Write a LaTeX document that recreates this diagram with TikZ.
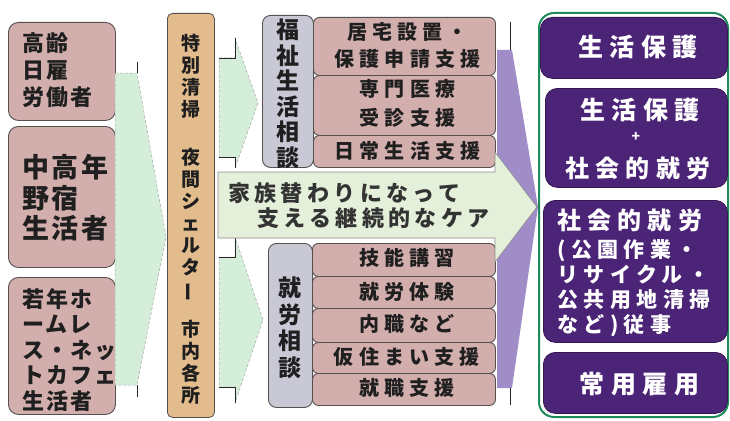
\documentclass[tikz,border=0pt]{standalone}
\usepackage{fontspec}
\newfontfamily\jp{Noto Sans CJK JP}
\newfontfamily\jpsp[LetterSpace=10]{Noto Sans CJK JP}
\newfontfamily\jpban[LetterSpace=20]{Noto Sans CJK JP}
\newfontfamily\jpwide[LetterSpace=26]{Noto Sans CJK JP}
\definecolor{pinkbox}{HTML}{D2AEAD}
\definecolor{tanbox}{HTML}{E3BC8E}
\definecolor{graybox}{HTML}{C9C9D6}
\definecolor{arrowgreen}{HTML}{D5EEDA}
\definecolor{bannergreen}{HTML}{E4F0DA}
\definecolor{lavender}{HTML}{A08DC8}
\definecolor{deeppurple}{HTML}{4B2377}
\definecolor{framegreen}{HTML}{1E8A5C}
\definecolor{edgegray}{HTML}{555050}
\begin{document}
\begin{tikzpicture}[x=1pt,y=-1pt,
  lbox/.style={draw=edgegray,fill=pinkbox,rounded corners=10pt,line width=0.9pt,inner sep=0pt,anchor=north west},
  rbox/.style={draw=edgegray,fill=pinkbox,rounded corners=6pt,line width=0.9pt,inner sep=0pt,anchor=north west},
  tanstyle/.style={draw=edgegray,fill=tanbox,rounded corners=5pt,line width=0.8pt,inner sep=0pt,anchor=north west},
  graystyle/.style={draw=edgegray,fill=graybox,rounded corners=8pt,line width=0.9pt,inner sep=0pt,anchor=north west},
  pbox/.style={draw=deeppurple!70!black,fill=deeppurple,rounded corners=12pt,line width=0.8pt,inner sep=0pt,anchor=north west},
  garrow/.style={fill=arrowgreen,draw=black!35,densely dashed,line width=0.5pt},
  tick/.style={draw=black!85,line width=0.9pt},
  txt/.style={inner sep=0pt,text=black!88},
  wtxt/.style={inner sep=0pt,text=white},
]
\useasboundingbox (0,0) rectangle (730,420);

% left boxes
\node[lbox,minimum width=107pt,minimum height=98pt] (b1) at (8,22) {};
\node[lbox,minimum width=107pt,minimum height=141pt] (b2) at (8,126) {};
\node[lbox,minimum width=107pt,minimum height=137pt] (b3) at (8,277) {};
\node[txt,anchor=west,align=left,font=\jpsp\bfseries\fontsize{22}{27}\selectfont] (t1) at ([xshift=14pt,yshift=1pt]b1.west) {高齢\\日雇\\労働者};
\node[txt,anchor=west,align=left,font=\jpsp\bfseries\fontsize{27}{30.5}\selectfont] (t2) at ([xshift=14pt,yshift=-1pt]b2.west) {中高年\\野宿\\生活者};
\node[txt,anchor=west,align=left,font=\jpsp\bfseries\fontsize{22}{25.5}\selectfont] (t3) at ([xshift=14pt,yshift=-4pt]b3.west) {若年ホ\\ームレ\\ス・ネッ\\トカフェ\\生活者};

% big green arrow
\path[garrow] (115,73) -- (137,73) -- (166,237) -- (137,385) -- (115,385) -- cycle;
\coordinate (g1a) at (137,62); \coordinate (g1b) at (137,73);
\coordinate (g1c) at (137,385); \coordinate (g1d) at (137,397);
\draw[tick] (g1a) -- (g1b);
\draw[tick] (g1c) -- (g1d);

% tan column
\node[tanstyle,minimum width=47pt,minimum height=404pt] (tan) at (167,13) {};
\node[txt,align=center,font=\jp\bfseries\fontsize{19}{22}\selectfont] (tantext) at (190.5,219)
 {特\\別\\清\\掃\\[26pt]夜\\間\\シ\\ェ\\ル\\タ\\\rotatebox[origin=c]{90}{ー}\\[18pt]市\\内\\各\\所};

% small green arrows
\path[garrow] (219,58) -- (235,58) -- (235,38) -- (258,103) -- (235,168) -- (235,157) -- (219,157) -- cycle;
\coordinate (s1a) at (235,38); \coordinate (s1b) at (235,58); \coordinate (s1c) at (219,58);
\coordinate (s1d) at (219,157); \coordinate (s1e) at (235,157); \coordinate (s1f) at (235,168);
\draw[tick] (s1a) -- (s1b) -- (s1c);
\draw[tick] (s1d) -- (s1e) -- (s1f);
\path[garrow] (219,257) -- (235,257) -- (235,237) -- (263,320) -- (235,403) -- (235,387) -- (219,387) -- cycle;
\coordinate (s2a) at (235,237); \coordinate (s2b) at (235,257); \coordinate (s2c) at (219,257);
\coordinate (s2d) at (219,387); \coordinate (s2e) at (235,387); \coordinate (s2f) at (235,403);
\draw[tick] (s2a) -- (s2b) -- (s2c);
\draw[tick] (s2d) -- (s2e) -- (s2f);

% purple arrow
\path[fill=lavender] (497,50) -- (512,50) -- (538,207) -- (512,388) -- (497,388) -- cycle;
\coordinate (p1a) at (510,22); \coordinate (p1b) at (510,50);
\coordinate (p1c) at (510,388); \coordinate (p1d) at (510,405);
\draw[tick] (p1a) -- (p1b);
\draw[tick] (p1c) -- (p1d);

% welfare group
\node[graystyle,minimum width=51pt,minimum height=152pt] (fg) at (262,15) {};
\node[txt,align=center,font=\jp\bfseries\fontsize{23}{25.5}\selectfont] (fgt) at (287.5,94) {福\\祉\\生\\活\\相\\談};
\node[rbox,minimum width=182pt,minimum height=58pt] (f1) at (313,17) {};
\node[rbox,minimum width=182pt,minimum height=60pt] (f2) at (313,75) {};
\node[rbox,minimum width=182pt,minimum height=32pt] (f3) at (313,135) {};
\node[txt,align=center,font=\jpwide\bfseries\fontsize{20}{27}\selectfont] (f1t) at ([xshift=3pt,yshift=1pt]f1.center) {居宅設置・\\保護申請支援};
\node[txt,align=center,font=\jpwide\bfseries\fontsize{20}{29}\selectfont] (f2t) at ([xshift=3pt,yshift=2pt]f2.center) {専門医療\\受診支援};
\node[txt,align=center,font=\jpwide\bfseries\fontsize{20}{24}\selectfont] (f3t) at ([xshift=3pt,yshift=1pt]f3.center) {日常生活支援};

% employment group
\node[graystyle,minimum width=44pt,minimum height=164pt] (eg) at (268,243) {};
\node[txt,align=center,font=\jp\bfseries\fontsize{23}{26.5}\selectfont] (egt) at (290,328) {就\\労\\相\\談};
\node[rbox,minimum width=183pt,minimum height=33pt] (e1) at (312,243) {};
\node[rbox,minimum width=183pt,minimum height=32pt] (e2) at (312,276) {};
\node[rbox,minimum width=183pt,minimum height=34pt] (e3) at (312,308) {};
\node[rbox,minimum width=183pt,minimum height=31pt] (e4) at (312,342) {};
\node[rbox,minimum width=183pt,minimum height=32pt] (e5) at (312,373) {};
\node[txt,font=\jpwide\bfseries\fontsize{20}{24}\selectfont] (e1t) at ([xshift=3pt,yshift=2pt]e1.center) {技能講習};
\node[txt,font=\jpwide\bfseries\fontsize{20}{24}\selectfont] (e2t) at ([xshift=3pt,yshift=1pt]e2.center) {就労体験};
\node[txt,font=\jpwide\bfseries\fontsize{20}{24}\selectfont] (e3t) at ([xshift=3pt,yshift=2pt]e3.center) {内職など};
\node[txt,font=\jpwide\bfseries\fontsize{20}{24}\selectfont] (e4t) at ([xshift=3pt,yshift=1pt]e4.center) {仮住まい支援};
\node[txt,font=\jpwide\bfseries\fontsize{20}{24}\selectfont] (e5t) at ([xshift=3pt,yshift=2pt]e5.center) {就職支援};

% banner arrow
\path[fill=bannergreen,draw=black!45,line width=0.6pt] (218,172) -- (495,172) -- (495,152) -- (537,207) -- (495,262) -- (495,238) -- (218,238) -- cycle;
\node[txt,anchor=west,align=left,font=\jpban\bfseries\fontsize{22}{25}\selectfont,text=black!80] (bt) at (228,206)
 {家族替わりになって\\\hspace*{29pt}支える継続的なケア};

% right container
\node[draw=framegreen,line width=2pt,rounded corners=15pt,minimum width=189pt,minimum height=404pt,anchor=north west,inner sep=0pt] (frame) at (538,12) {};
\node[pbox,minimum width=187pt,minimum height=61pt] (r1) at (540,17) {};
\node[pbox,minimum width=182pt,minimum height=99pt] (r2) at (545,88) {};
\node[pbox,minimum width=184pt,minimum height=142pt] (r3) at (543,200) {};
\node[pbox,minimum width=184pt,minimum height=61pt] (r4) at (543,352) {};
\node[wtxt,font=\jpwide\bfseries\fontsize{25}{30}\selectfont] (r1t) at ([xshift=4pt,yshift=1pt]r1.center) {生活保護};
\node[wtxt,font=\jpwide\bfseries\fontsize{25}{30}\selectfont] (r2ta) at (640,110) {生活保護};
\node[wtxt,font=\jp\bfseries\fontsize{14}{16}\selectfont] (r2tb) at (636,137) {+};
\node[wtxt,font=\jpwide\bfseries\fontsize{24}{30}\selectfont] (r2tc) at (638,168) {社会的就労};
\node[wtxt,anchor=north west,align=left,font=\jpwide\bfseries\fontsize{24}{28}\selectfont] (r3ta) at (557,209) {社会的就労};
\node[wtxt,anchor=north west,align=left,font=\jpwide\bfseries\fontsize{21}{25}\selectfont] (r3tb) at (557,239) {(公園作業・\\リサイクル・\\公共用地清掃\\など)従事};
\node[wtxt,font=\jpwide\bfseries\fontsize{25}{30}\selectfont] (r4t) at ([xshift=4pt,yshift=-1pt]r4.center) {常用雇用};
\end{tikzpicture}
\end{document}
